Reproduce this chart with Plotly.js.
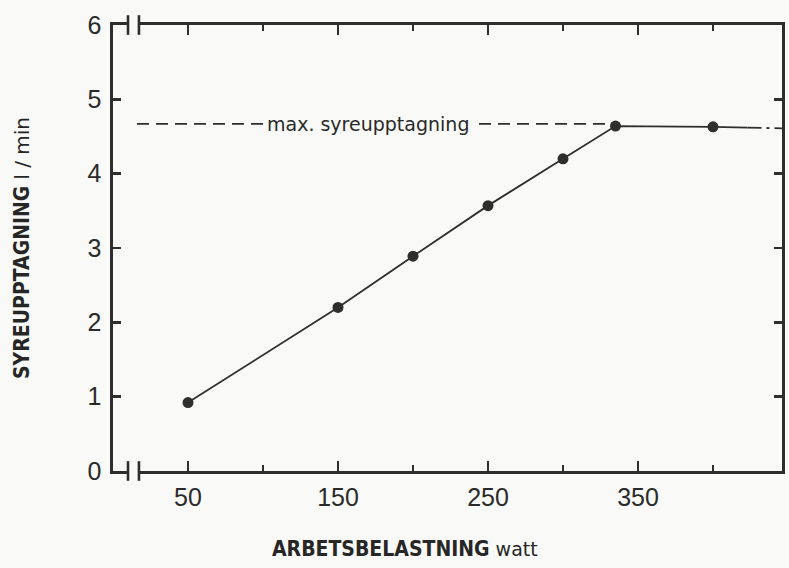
<!DOCTYPE html>
<html>
<head>
<meta charset="utf-8">
<script src="https://cdn.plot.ly/plotly-3.0.1.min.js"></script>
<style>
  html, body { margin: 0; padding: 0; background: #f9f9f7; }
  #chart { width: 789px; height: 568px; }
</style>
</head>
<body>
<div id="chart"></div>
<script>
// Oxygen uptake (l/min) against work load (watt)
const workload = [50, 150, 200, 250, 300, 335, 400];
const uptake   = [0.92, 2.20, 2.89, 3.57, 4.20, 4.64, 4.63];

// Plateau continuation after the last measurement
const tailX = [400, 423, 446];
const tailY = [4.63, 4.62, 4.61];

// Maximal oxygen uptake level
const maxUptake = 4.67;
const maxLineX = [16, 335];

const xTickVals = [50, 150, 250, 350];
const xTickText = ['50', '150', '250', '350'];
const yTickVals = [0, 1, 2, 3, 4, 5, 6];
const yTickText = ['0', '1', '2', '3', '4', '5', '6'];

const ink = '#2e2e2e';
const paper = '#f9f9f7';
const titleFont = 'DejaVu Sans Condensed, DejaVu Sans, sans-serif';

const traces = [
  {
    // dashed max level
    x: maxLineX, y: [maxUptake, maxUptake],
    mode: 'lines', hoverinfo: 'skip',
    line: { color: ink, width: 1.8, dash: '12px,7px' }
  },
  {
    // solid part of the plateau after the last point
    x: tailX.slice(0, 2), y: tailY.slice(0, 2),
    mode: 'lines', hoverinfo: 'skip',
    line: { color: ink, width: 1.8 }
  },
  {
    // dash-dot continuation
    x: tailX.slice(1), y: tailY.slice(1),
    mode: 'lines', hoverinfo: 'skip',
    line: { color: ink, width: 1.8, dash: '14px,5px,3px,5px' }
  },
  {
    x: workload, y: uptake,
    mode: 'lines+markers',
    line: { color: ink, width: 1.8 },
    marker: { color: ink, size: 11 }
  }
];

const axisCommon = {
  showline: true, linecolor: ink, linewidth: 2.6,
  mirror: 'ticks', ticks: 'inside', tickcolor: ink, tickwidth: 2.6,
  showgrid: false, zeroline: false, fixedrange: true,
  tickfont: { family: 'Liberation Sans, Arial, sans-serif', size: 25, color: '#2a2a2a' }
};

// axis break: gap in the axis line between two short bars
const breakX0 = 10, breakX1 = 17.3;
const shapes = [];
[0, 1].forEach(yp => {
  shapes.push({
    type: 'rect', xref: 'x', yref: 'paper', layer: 'above',
    x0: breakX0 + 0.6, x1: breakX1 - 0.6, y0: yp - 0.008, y1: yp + 0.008,
    fillcolor: paper, line: { width: 0 }
  });
  [breakX0, breakX1].forEach(bx => shapes.push({
    type: 'line', xref: 'x', yref: 'paper', layer: 'above',
    x0: bx, x1: bx, y0: yp - 0.022, y1: yp + 0.022,
    line: { color: ink, width: 2.6 }
  }));
});

const layout = {
  width: 789, height: 568,
  margin: { l: 113, r: 7, t: 25, b: 97 },
  paper_bgcolor: paper, plot_bgcolor: paper,
  showlegend: false,
  xaxis: Object.assign({}, axisCommon, {
    range: [0, 446],
    tickmode: 'array', tickvals: xTickVals, ticktext: xTickText,
    ticklen: 10, ticklabelstandoff: 2,
    minor: { tickmode: 'linear', tick0: 0, dtick: 50, ticks: 'inside',
             ticklen: 6, tickwidth: 2.6, tickcolor: ink }
  }),
  yaxis: Object.assign({}, axisCommon, {
    range: [0, 6],
    tickmode: 'array', tickvals: yTickVals, ticktext: yTickText,
    ticklen: 8, ticklabelstandoff: 4,
    title: {
      text: '<b>SYREUPPTAGNING</b> <span style="font-family:DejaVu Sans;font-size:20px;font-weight:normal">l / min</span>',
      font: { family: titleFont, size: 21, color: '#262626' },
      standoff: 52
    }
  }),
  shapes: shapes,
  annotations: [
    {
      x: 170, y: maxUptake, xref: 'x', yref: 'y',
      text: 'max. syreupptagning',
      showarrow: false, bgcolor: paper, borderpad: 3,
      font: { family: 'DejaVu Sans, sans-serif', size: 19, color: '#2a2a2a' }
    },
    {
      // x axis title
      x: 0.436, y: -0.175, xref: 'paper', yref: 'paper',
      xanchor: 'center', yanchor: 'middle', showarrow: false,
      text: '<b>ARBETSBELASTNING</b> <span style="font-family:DejaVu Sans;font-size:19px;font-weight:normal">watt</span>',
      font: { family: titleFont, size: 21, color: '#262626' }
    }
  ]
};

Plotly.newPlot('chart', traces, layout, { staticPlot: true, displayModeBar: false });
</script>
</body>
</html>
